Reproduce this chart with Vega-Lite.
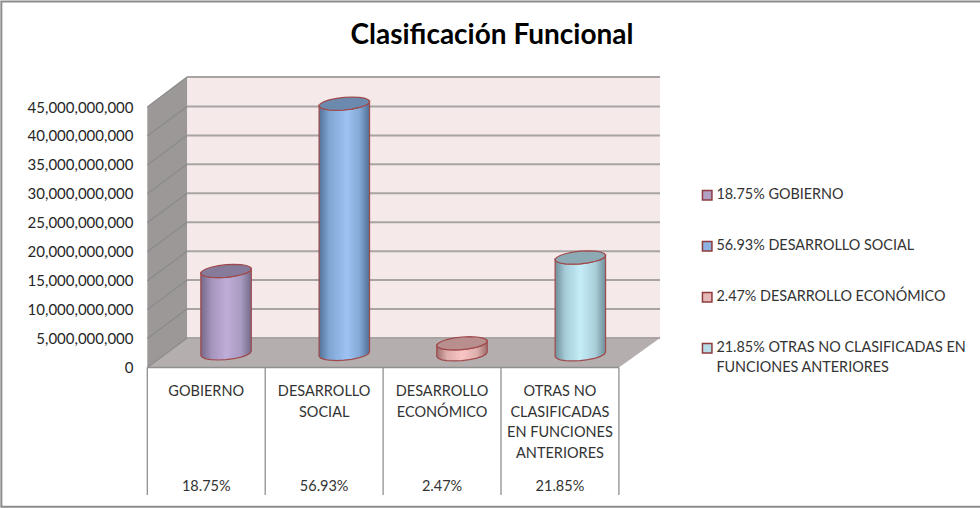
{"$schema":"https://vega.github.io/schema/vega-lite/v6.json","width":980,"height":508,"padding":0,"autosize":{"type":"none"},"background":"white","config":{"numberFormat":",","view":{"stroke":null},"font":"Lato","axisY":{"offset":-133,"domain":false,"ticks":false,"grid":false,"labelPadding":0,"labelFontSize":15,"labelFont":"Lato","labelColor":"#262626","labelOverlap":false,"labelExpr":"format(datum.value,',')"}},
"title":{"text":"Clasificación Funcional","font":"Lato","fontSize":28,"fontWeight":"bold","color":"#000000","anchor":"middle","frame":"group","offset":-50,"dx":2},
"datasets":{
"frame":[{"x":-1.238,"x2":7.2,"y":63.23e9,"y2":-24.05e9}],
"back":[{"x":0.337,"x2":4.349,"y":50.19e9,"y2":5.1e9}],
"side":[{"x":0,"y":45e9,"y2":0},{"x":0.337,"y":50.19e9,"y2":5.1e9}],
"floor":[{"x":0,"y":0,"y2":0},{"x":0.337,"y":5.1e9,"y2":0},{"x":4,"y":5.1e9,"y2":0},{"x":4.349,"y":5.1e9,"y2":5.1e9}],
"grid":[{"v":0,"b":5.1e9},{"v":5e9,"b":10.1e9},{"v":10e9,"b":15.1e9},{"v":15e9,"b":20.1e9},{"v":20e9,"b":25.1e9},{"v":25e9,"b":30.1e9},{"v":30e9,"b":35.1e9},{"v":35e9,"b":40.1e9},{"v":40e9,"b":45.1e9},{"v":45e9,"b":50.19e9}],
"table":[{"x":0},{"x":1},{"x":2},{"x":3},{"x":4}],
"labels":[{"x":0.5,"y":-3e9,"t":"GOBIERNO"},{"x":1.5,"y":-3e9,"t":"DESARROLLO\nSOCIAL"},{"x":2.5,"y":-3e9,"t":"DESARROLLO\nECONÓMICO"},{"x":3.5,"y":-3e9,"t":"OTRAS NO\nCLASIFICADAS\nEN FUNCIONES\nANTERIORES"},{"x":0.5,"y":-19.5e9,"t":"18.75%"},{"x":1.5,"y":-19.5e9,"t":"56.93%"},{"x":2.5,"y":-19.5e9,"t":"2.47%"},{"x":3.5,"y":-19.5e9,"t":"21.85%"}],
"bars":[{"c":0.67,"value":14.2e9,"k":"18.75% GOBIERNO"},{"c":1.67,"value":43.2e9,"k":"56.93% DESARROLLO SOCIAL"},{"c":2.67,"value":1.9e9,"k":"2.47% DESARROLLO ECONÓMICO"},{"c":3.67,"value":16.7e9,"k":"21.85% OTRAS NO CLASIFICADAS EN FUNCIONES ANTERIORES"}],
"cyl":[
{"s":"a","x":0.454,"hi":16.30e9,"lo":16.30e9,"b":2.08e9},{"s":"a","x":0.465,"hi":16.66e9,"lo":15.98e9,"b":1.76e9},{"s":"a","x":0.497,"hi":17.03e9,"lo":15.72e9,"b":1.50e9},{"s":"a","x":0.540,"hi":17.32e9,"lo":15.58e9,"b":1.36e9},{"s":"a","x":0.604,"hi":17.60e9,"lo":15.52e9,"b":1.30e9},{"s":"a","x":0.668,"hi":17.76e9,"lo":15.58e9,"b":1.36e9},{"s":"a","x":0.732,"hi":17.82e9,"lo":15.74e9,"b":1.52e9},{"s":"a","x":0.796,"hi":17.76e9,"lo":16.02e9,"b":1.80e9},{"s":"a","x":0.839,"hi":17.62e9,"lo":16.31e9,"b":2.09e9},{"s":"a","x":0.871,"hi":17.36e9,"lo":16.66e9,"b":2.44e9},{"s":"a","x":0.882,"hi":17.04e9,"lo":17.04e9,"b":2.82e9},
{"s":"b","x":1.457,"hi":45.21e9,"lo":45.21e9,"b":1.98e9},{"s":"b","x":1.468,"hi":45.57e9,"lo":44.89e9,"b":1.66e9},{"s":"b","x":1.500,"hi":45.94e9,"lo":44.63e9,"b":1.40e9},{"s":"b","x":1.543,"hi":46.23e9,"lo":44.49e9,"b":1.26e9},{"s":"b","x":1.607,"hi":46.51e9,"lo":44.43e9,"b":1.20e9},{"s":"b","x":1.671,"hi":46.67e9,"lo":44.49e9,"b":1.26e9},{"s":"b","x":1.735,"hi":46.73e9,"lo":44.65e9,"b":1.42e9},{"s":"b","x":1.799,"hi":46.67e9,"lo":44.93e9,"b":1.70e9},{"s":"b","x":1.842,"hi":46.53e9,"lo":45.22e9,"b":1.99e9},{"s":"b","x":1.874,"hi":46.27e9,"lo":45.57e9,"b":2.34e9},{"s":"b","x":1.885,"hi":45.95e9,"lo":45.95e9,"b":2.72e9},
{"s":"c","x":2.455,"hi":3.81e9,"lo":3.81e9,"b":1.91e9},{"s":"c","x":2.466,"hi":4.17e9,"lo":3.49e9,"b":1.59e9},{"s":"c","x":2.498,"hi":4.54e9,"lo":3.23e9,"b":1.33e9},{"s":"c","x":2.541,"hi":4.83e9,"lo":3.09e9,"b":1.19e9},{"s":"c","x":2.605,"hi":5.11e9,"lo":3.03e9,"b":1.13e9},{"s":"c","x":2.669,"hi":5.27e9,"lo":3.09e9,"b":1.19e9},{"s":"c","x":2.733,"hi":5.33e9,"lo":3.25e9,"b":1.35e9},{"s":"c","x":2.797,"hi":5.27e9,"lo":3.53e9,"b":1.63e9},{"s":"c","x":2.840,"hi":5.13e9,"lo":3.82e9,"b":1.92e9},{"s":"c","x":2.872,"hi":4.87e9,"lo":4.17e9,"b":2.27e9},{"s":"c","x":2.883,"hi":4.55e9,"lo":4.55e9,"b":2.65e9},
{"s":"d","x":3.459,"hi":18.63e9,"lo":18.63e9,"b":1.91e9},{"s":"d","x":3.470,"hi":18.99e9,"lo":18.31e9,"b":1.59e9},{"s":"d","x":3.502,"hi":19.36e9,"lo":18.05e9,"b":1.33e9},{"s":"d","x":3.545,"hi":19.65e9,"lo":17.91e9,"b":1.19e9},{"s":"d","x":3.609,"hi":19.93e9,"lo":17.85e9,"b":1.13e9},{"s":"d","x":3.673,"hi":20.09e9,"lo":17.91e9,"b":1.19e9},{"s":"d","x":3.737,"hi":20.15e9,"lo":18.07e9,"b":1.35e9},{"s":"d","x":3.801,"hi":20.09e9,"lo":18.35e9,"b":1.63e9},{"s":"d","x":3.844,"hi":19.95e9,"lo":18.64e9,"b":1.92e9},{"s":"d","x":3.876,"hi":19.69e9,"lo":18.99e9,"b":2.27e9},{"s":"d","x":3.887,"hi":19.37e9,"lo":19.37e9,"b":2.65e9}
]},
"layer":[
{"data":{"name":"frame"},"mark":{"type":"rect","fill":"transparent","stroke":"#8c8c8c","strokeWidth":2},"encoding":{"x":{"field":"x","type":"quantitative","scale":{"domain":[-1.2494,7.0628],"nice":false,"zero":false},"axis":null},"x2":{"field":"x2"},"y":{"field":"y","type":"quantitative","scale":{"domain":[-24.27e9,63.49e9],"nice":false,"zero":false},"axis":{"values":[0,5e9,10e9,15e9,20e9,25e9,30e9,35e9,40e9,45e9],"labelExpr":"format(datum.value,',')","title":null}},"y2":{"field":"y2"}}},
{"data":{"name":"back"},"mark":{"type":"rect","fill":"#f5e9e9"},"encoding":{"x":{"field":"x","type":"quantitative","axis":null},"x2":{"field":"x2"},"y":{"field":"y","type":"quantitative","axis":{"values":[0,5e9,10e9,15e9,20e9,25e9,30e9,35e9,40e9,45e9],"labelExpr":"format(datum.value,',')","title":null}},"y2":{"field":"y2"}}},
{"data":{"name":"side"},"mark":{"type":"area","fill":"#9c9897"},"encoding":{"x":{"field":"x","type":"quantitative","axis":null},"y":{"field":"y","type":"quantitative","axis":{"title":null}},"y2":{"field":"y2"}}},
{"data":{"name":"floor"},"mark":{"type":"area","fill":"#b5aeae"},"encoding":{"x":{"field":"x","type":"quantitative","axis":null},"y":{"field":"y","type":"quantitative","axis":{"title":null}},"y2":{"field":"y2"}}},
{"data":{"name":"grid"},"mark":{"type":"rule","color":"#a8a4a4","strokeWidth":2},"encoding":{"x":{"datum":0.337,"type":"quantitative","axis":null},"x2":{"datum":4.349},"y":{"field":"b","type":"quantitative","axis":{"title":null}}}},
{"data":{"name":"grid"},"mark":{"type":"rule","color":"#8a8a8a","strokeWidth":1.2},"encoding":{"x":{"datum":0,"type":"quantitative","axis":null},"x2":{"datum":0.337},"y":{"field":"v","type":"quantitative","axis":{"title":null}},"y2":{"field":"b"}}},
{"data":{"name":"table"},"mark":{"type":"rule","color":"#909090","strokeWidth":1.3},"encoding":{"x":{"field":"x","type":"quantitative","axis":null},"y":{"datum":0,"type":"quantitative","axis":{"title":null}},"y2":{"datum":-22.03e9}}},
{"data":{"name":"table"},"transform":[{"filter":"datum.x==0"}],"mark":{"type":"rule","color":"#909090","strokeWidth":1.3},"encoding":{"x":{"datum":0,"type":"quantitative","axis":null},"x2":{"datum":4},"y":{"datum":0,"type":"quantitative","axis":{"title":null}}}},
{"data":{"name":"labels"},"mark":{"type":"text","fontSize":14.5,"font":"Lato","color":"#333333","baseline":"top","lineBreak":"\n","lineHeight":20.7},"encoding":{"x":{"field":"x","type":"quantitative","axis":null},"y":{"field":"y","type":"quantitative","axis":{"title":null}},"text":{"field":"t"}}},
{"data":{"name":"bars"},"mark":{"type":"point","filled":true,"size":0,"opacity":1},"encoding":{"x":{"field":"c","type":"quantitative","axis":null},"y":{"field":"value","type":"quantitative","axis":{"title":null}},"color":{"field":"k","type":"nominal","scale":{"domain":["18.75% GOBIERNO","56.93% DESARROLLO SOCIAL","2.47% DESARROLLO ECONÓMICO","21.85% OTRAS NO CLASIFICADAS EN FUNCIONES ANTERIORES"],"range":["#b2a1c7","#8db3e2","#e6b9b8","#b7dde8"]},"legend":{"orient":"none","legendX":700,"legendY":188,"title":null,"symbolType":"square","symbolSize":90,"symbolStrokeColor":"#8e3b3d","symbolStrokeWidth":1.5,"symbolOpacity":1,"labelFont":"Lato","labelFontSize":14.4,"labelColor":"#333333","labelLimit":300,"rowPadding":35,"labelOffset":2,"labelExpr":"indexof(datum.label,'OTRAS')>=0 ? ['21.85% OTRAS NO CLASIFICADAS EN','FUNCIONES ANTERIORES'] : datum.label","encode":{"labels":{"update":{"lineHeight":{"value":20}}}}}}}},
{"data":{"name":"cyl"},"transform":[{"filter":"datum.s=='a'"}],"mark":{"type":"area","stroke":"#a04a4c","strokeWidth":1.2,"fill":{"gradient":"linear","x1":0,"x2":1,"y1":0,"y2":0,"stops":[{"offset":0,"color":"#75698a"},{"offset":0.22,"color":"#a594bb"},{"offset":0.5,"color":"#bfadd9"},{"offset":0.8,"color":"#a89ac0"},{"offset":1,"color":"#75698a"}]}},"encoding":{"x":{"field":"x","type":"quantitative","axis":null},"y":{"field":"lo","type":"quantitative","axis":{"title":null}},"y2":{"field":"b"}}},
{"data":{"name":"cyl"},"transform":[{"filter":"datum.s=='a'"}],"mark":{"type":"area","fill":"#877b9b","stroke":"#a04a4c","strokeWidth":1.2},"encoding":{"x":{"field":"x","type":"quantitative","axis":null},"y":{"field":"hi","type":"quantitative","axis":{"title":null}},"y2":{"field":"lo"}}},
{"data":{"name":"cyl"},"transform":[{"filter":"datum.s=='b'"}],"mark":{"type":"area","stroke":"#a04a4c","strokeWidth":1.2,"fill":{"gradient":"linear","x1":0,"x2":1,"y1":0,"y2":0,"stops":[{"offset":0,"color":"#527297"},{"offset":0.2,"color":"#7fa5d3"},{"offset":0.55,"color":"#9cc3f2"},{"offset":0.8,"color":"#84a9d6"},{"offset":1,"color":"#4f6f94"}]}},"encoding":{"x":{"field":"x","type":"quantitative","axis":null},"y":{"field":"lo","type":"quantitative","axis":{"title":null}},"y2":{"field":"b"}}},
{"data":{"name":"cyl"},"transform":[{"filter":"datum.s=='b'"}],"mark":{"type":"area","fill":"#6c89ae","stroke":"#a04a4c","strokeWidth":1.2},"encoding":{"x":{"field":"x","type":"quantitative","axis":null},"y":{"field":"hi","type":"quantitative","axis":{"title":null}},"y2":{"field":"lo"}}},
{"data":{"name":"cyl"},"transform":[{"filter":"datum.s=='c'"}],"mark":{"type":"area","stroke":"#a04a4c","strokeWidth":1.2,"fill":{"gradient":"linear","x1":0,"x2":1,"y1":0,"y2":0,"stops":[{"offset":0,"color":"#9c6f6e"},{"offset":0.2,"color":"#dcaeac"},{"offset":0.5,"color":"#fac6c5"},{"offset":0.8,"color":"#dcaeac"},{"offset":1,"color":"#9c6f6e"}]}},"encoding":{"x":{"field":"x","type":"quantitative","axis":null},"y":{"field":"lo","type":"quantitative","axis":{"title":null}},"y2":{"field":"b"}}},
{"data":{"name":"cyl"},"transform":[{"filter":"datum.s=='c'"}],"mark":{"type":"area","fill":"#b88e8e","stroke":"#a04a4c","strokeWidth":1.2},"encoding":{"x":{"field":"x","type":"quantitative","axis":null},"y":{"field":"hi","type":"quantitative","axis":{"title":null}},"y2":{"field":"lo"}}},
{"data":{"name":"cyl"},"transform":[{"filter":"datum.s=='d'"}],"mark":{"type":"area","stroke":"#a04a4c","strokeWidth":1.2,"fill":{"gradient":"linear","x1":0,"x2":1,"y1":0,"y2":0,"stops":[{"offset":0,"color":"#6f8e98"},{"offset":0.2,"color":"#a5ccd8"},{"offset":0.5,"color":"#c4edf8"},{"offset":0.8,"color":"#a8ced9"},{"offset":1,"color":"#6f8e98"}]}},"encoding":{"x":{"field":"x","type":"quantitative","axis":null},"y":{"field":"lo","type":"quantitative","axis":{"title":null}},"y2":{"field":"b"}}},
{"data":{"name":"cyl"},"transform":[{"filter":"datum.s=='d'"}],"mark":{"type":"area","fill":"#8caab4","stroke":"#a04a4c","strokeWidth":1.2},"encoding":{"x":{"field":"x","type":"quantitative","axis":null},"y":{"field":"hi","type":"quantitative","axis":{"title":null}},"y2":{"field":"lo"}}}
]}
